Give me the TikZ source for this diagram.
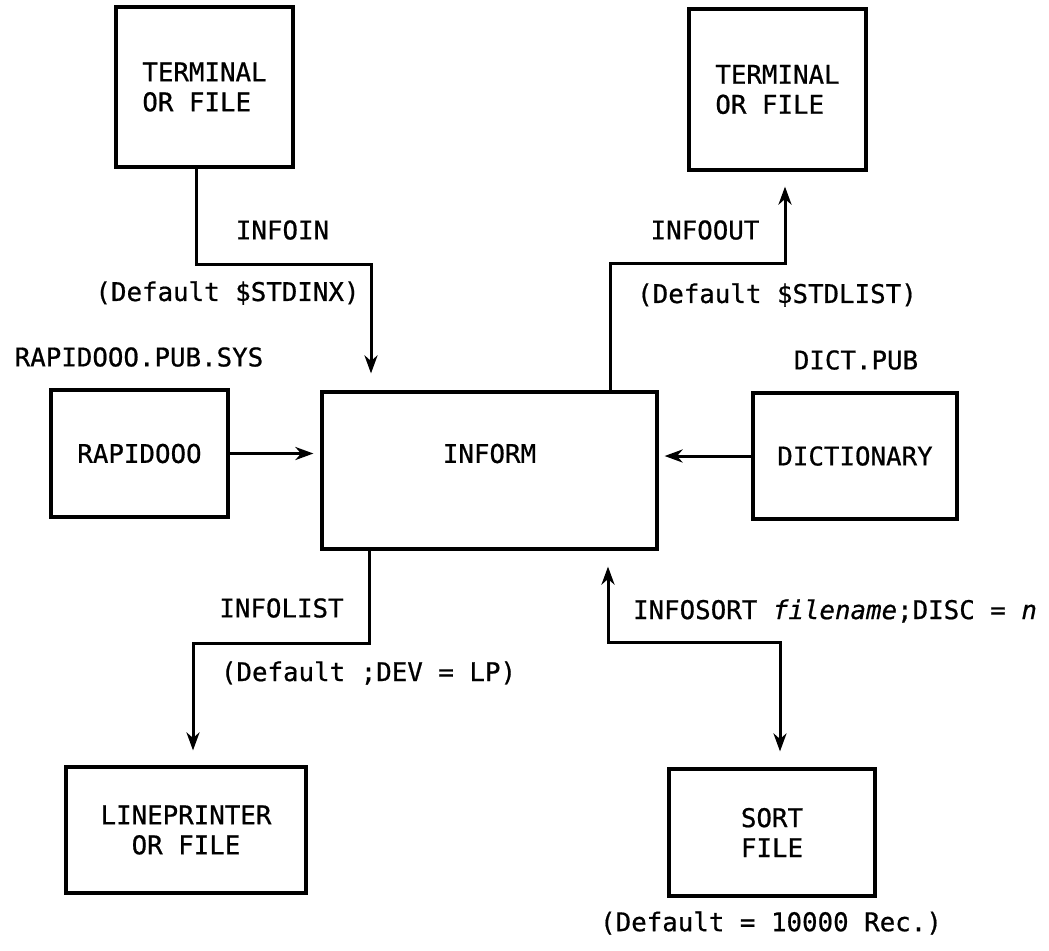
\documentclass[tikz,border=0pt]{standalone}
\usepackage{fontspec}
\newfontfamily\diagfont{DejaVu Sans Mono}[FakeBold=0.7]
\usepackage{tikz}
\usetikzlibrary{arrows.meta,positioning}

\begin{document}
\begin{tikzpicture}[x=0.5pt,y=-0.5pt,
  font=\diagfont\fontsize{12.9}{15}\selectfont,
  device/.style={rectangle,draw,line width=1.6pt,inner sep=0pt},
  tip/.tip={Stealth[length=9pt,width=6.5pt,inset=2.8pt]},
  flow/.style={line width=1.5pt,-tip}]
\useasboundingbox (0,0) rectangle (1049,950);

% boxes
\node[device,minimum width=88.5pt,minimum height=80pt,align=left] (termin) at (204.5,87) {TERMINAL\\OR FILE};
\node[device,minimum width=88.5pt,minimum height=80.5pt,align=left] (termout) at (777.5,89.5) {TERMINAL\\OR FILE};
\node[device,minimum width=88.5pt,minimum height=63.5pt] (rapid) at (139.5,453.5) {RAPIDOOO};
\node[device,minimum width=167.5pt,minimum height=78.5pt] (inform) at (489.5,470.5) {};
\node (informlbl) at ([yshift=8.5pt]inform.center) {INFORM};
\node[device,minimum width=102pt,minimum height=63pt] (dict) at (855,456) {DICTIONARY};
\node[device,minimum width=120pt,minimum height=63pt,align=center] (lprint) at (186,830) {LINEPRINTER\\OR FILE};
\node[device,minimum width=103pt,minimum height=63.5pt,align=center] (sortf) at (772,832.5) {SORT\\FILE};

% labels
\node (inlbl) at (282.5,230) {INFOIN};
\node (indef) at (227.5,293) {(Default \$STDINX)};
\node (rapidlbl) at (139,357) {RAPIDOOO.PUB.SYS};
\node (outlbl) at (705,230) {INFOOUT};
\node (outdef) at (777,295) {(Default \$STDLIST)};
\node (dictlbl) at (856,360) {DICT.PUB};
\node (listlbl) at (281.5,608) {INFOLIST};
\node (listdef) at (368.5,673) {(Default ;DEV = LP)};
\node[anchor=west] (sortlbl) at (626,611) {INFOSORT {\itshape filename};DISC = {\itshape n}};
\node (sortdef) at (771,923) {(Default = 10000 Rec.)};

% connectors
\draw[flow,shorten >=8.5pt] ([xshift=-4.25pt]termin.south) -- ++(0,96) -| ([xshift=-59.25pt]inform.north);
\draw[flow,shorten >=7.5pt] ([xshift=60.25pt]inform.north) -- ++(0,-127) -| ([xshift=3.75pt]termout.south);
\draw[flow,shorten >=3.5pt] (rapid.east) -- (rapid.east -| inform.west);
\draw[flow,shorten >=3pt] (dict.west) -- (dict.west -| inform.east);
\draw[flow,shorten >=7.5pt] ([xshift=-60.25pt]inform.south) -- ++(0,93) -| ([xshift=3.5pt]lprint.north);
\draw[flow,tip-tip,shorten >=8pt,shorten <=8pt] ([xshift=4pt]sortf.north) -- ++(0,-125) -| ([xshift=59.25pt]inform.south);
\end{tikzpicture}
\end{document}
